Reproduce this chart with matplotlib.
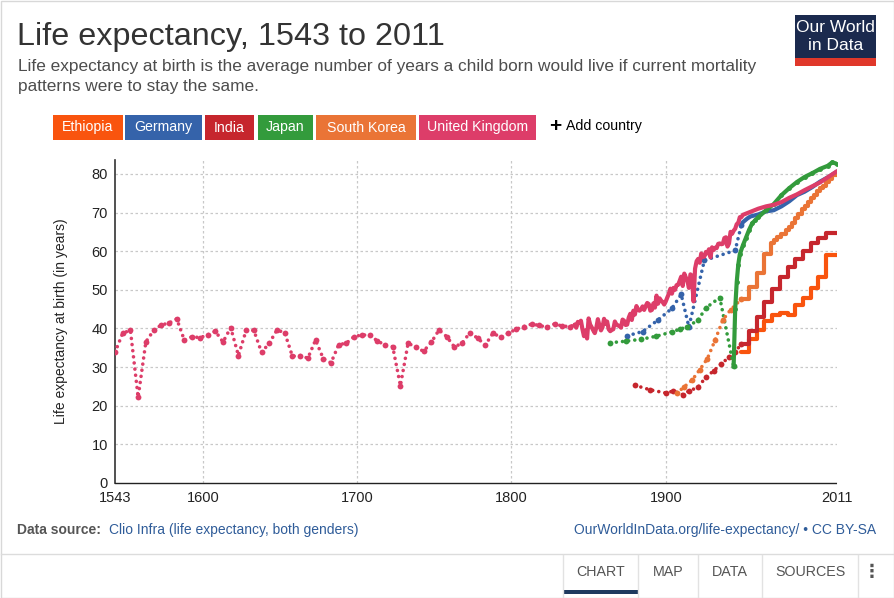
import matplotlib
matplotlib.use('Agg')
import matplotlib.pyplot as plt
from matplotlib.patches import Rectangle
from matplotlib.lines import Line2D

plt.rcParams['font.family'] = ['Liberation Sans', 'DejaVu Sans']

# ---------------- data ----------------
countries = ['Ethiopia', 'Germany', 'India', 'Japan', 'South Korea', 'United Kingdom']
colors = {'Ethiopia': '#F9540E', 'Germany': '#3563AA', 'India': '#C6262D',
          'Japan': '#339B3C', 'South Korea': '#EA7436', 'United Kingdom': '#DD3D69'}

# United Kingdom: sparse (5-yearly) estimates, then annual series from 1841
uk_sparse_years = list(range(1543, 1839, 5)) + [1841]
uk_sparse_vals = [33.8, 38.8, 39.5, 22.2, 36.5, 39.5, 40.9, 41.4, 42.5, 36.9,
                  37.9, 37.6, 38.3, 39.3, 36.5, 40.2, 33.0, 39.5, 39.5, 33.8,
                  36.2, 39.6, 38.9, 32.8, 33.0, 32.3, 37.0, 32.2, 31.1, 35.8,
                  36.2, 37.9, 38.3, 38.3, 36.8, 35.7, 35.3, 25.2, 36.2, 35.1,
                  34.1, 36.4, 39.6, 37.9, 35.2, 36.2, 38.9, 37.5, 35.7, 38.8,
                  37.7, 38.8, 39.8, 40.5, 41.1, 40.8, 40.3, 41.2, 40.6, 40.5,
                  41.0]
uk_years = list(range(1841, 1951)) + [1955, 1960, 1965, 1970, 1975, 1980,
                                      1985, 1990, 1995, 2000, 2005, 2011]
uk_vals = [41.0, 40.2, 41.7, 41.5, 42.0, 39.8, 38.0, 39.5, 37.4, 42.6,
           41.0, 40.3, 39.5, 38.8, 40.2, 42.4, 40.8, 39.5, 40.3, 42.5,
           41.2, 41.8, 39.8, 39.3, 39.6, 39.8, 41.8, 41.0, 40.8, 40.6,
           40.2, 42.3, 42.0, 40.9, 41.0, 42.8, 43.8, 42.2, 44.6, 43.6,
           45.8, 44.8, 44.6, 45.0, 45.7, 44.8, 45.8, 46.6, 46.3, 44.6,
           44.8, 46.5, 45.4, 48.5, 46.4, 47.8, 47.2, 46.8, 46.2, 47.0,
           48.0, 49.0, 50.3, 49.0, 50.5, 50.0, 51.2, 51.3, 52.3, 53.4,
           51.0, 54.2, 53.2, 52.4, 50.5, 54.0, 53.6, 47.0, 55.5, 57.4,
           58.0, 57.0, 59.4, 58.5, 58.6, 59.8, 59.4, 60.5, 58.4, 61.0,
           60.3, 60.9, 60.8, 61.9, 62.0, 61.8, 61.9, 63.4, 63.6, 61.2,
           62.0, 65.0, 64.5, 65.3, 65.8, 67.0, 67.3, 68.8, 68.8, 69.4,
           70.2, 71.0, 71.6, 72.0, 72.7, 73.8, 74.7, 75.8, 76.8, 77.8,
           79.1, 80.7]

# Germany
de_sparse_years = [1875, 1885, 1895, 1904, 1910, 1915, 1925, 1945, 1949]
de_sparse_vals = [38.1, 39.2, 42.2, 45.2, 48.8, 40.4, 57.6, 60.2, 66.8]
de_years = [1949, 1950, 1953, 1955, 1960, 1965, 1970, 1975, 1980, 1985,
            1990, 1995, 2000, 2005, 2011]
de_vals = [66.8, 67.5, 68.5, 69.0, 69.5, 70.3, 70.6, 71.6, 72.9, 74.5,
           75.4, 76.6, 78.0, 79.1, 80.6]

# India
in_sparse_years = [1880, 1890, 1900, 1905, 1911, 1915, 1921, 1926, 1931,
                   1936, 1941, 1945, 1949]
in_sparse_vals = [25.3, 24.1, 23.3, 23.8, 22.9, 23.8, 24.8, 27.4, 29.0,
                  30.9, 32.5, 33.8, 36.1]
in_years = [1949, 1954, 1959, 1964, 1969, 1974, 1979, 1984, 1989, 1994,
            1999, 2004, 2011]
in_vals = [36.1, 39.4, 43.0, 46.9, 50.2, 53.2, 55.8, 57.9, 60.0, 62.0,
           63.5, 64.8, 64.8]

# Japan
jp_sparse_years = [1864, 1874, 1884, 1894, 1904, 1909, 1914, 1921, 1926,
                   1935, 1944]
jp_sparse_vals = [36.3, 36.7, 37.2, 38.0, 39.1, 39.8, 40.4, 42.2, 45.3,
                  48.0, 30.2]
jp_years = [1944, 1945, 1946, 1947, 1948, 1950, 1952, 1954, 1956, 1958,
            1960, 1965, 1970, 1975, 1980, 1985, 1990, 1995, 2000, 2005,
            2008, 2011]
jp_vals = [30.2, 45.0, 52.0, 56.5, 59.2, 61.5, 63.5, 65.5, 67.2, 68.0,
           68.8, 70.6, 72.2, 74.5, 76.3, 77.9, 79.2, 80.2, 81.3, 82.1,
           83.0, 82.6]

# South Korea
kr_sparse_years = [1907, 1912, 1917, 1922, 1927, 1932, 1937, 1942, 1949]
kr_sparse_vals = [23.2, 24.9, 26.6, 29.3, 32.2, 37.0, 42.2, 44.8, 47.6]
kr_years = [1949, 1954, 1959, 1964, 1968, 1970, 1972, 1975, 1978, 1980,
            1982, 1984, 1986, 1988, 1990, 1992, 1994, 1996, 1998, 2000,
            2002, 2004, 2006, 2008, 2011]
kr_vals = [47.6, 50.8, 54.3, 59.3, 62.0, 63.0, 63.7, 64.5, 65.5, 66.3,
           67.3, 68.5, 69.6, 70.8, 71.8, 72.8, 73.8, 74.6, 75.5, 76.3,
           77.0, 77.8, 78.8, 79.7, 80.6]

# Ethiopia
et_years = [1949, 1954, 1959, 1964, 1969, 1974, 1979, 1984, 1989, 1994,
            1999, 2004, 2011]
et_vals = [33.8, 37.2, 39.6, 42.0, 43.6, 44.1, 43.5, 46.0, 47.8, 50.4,
           53.4, 59.0, 59.0]

y_ticks = [0, 10, 20, 30, 40, 50, 60, 70, 80]
x_ticks = [1543, 1600, 1700, 1800, 1900, 2011]

# ---------------- figure ----------------
W, H = 894, 598
fig = plt.figure(figsize=(W / 100, H / 100), dpi=100)
fig.patch.set_facecolor('white')


def fx(px):
    return px / W


def fy(py):
    return 1 - py / H


def box(x0, y0, x1, y1, color, **kw):
    fig.add_artist(Rectangle((fx(x0), fy(y1)), (x1 - x0) / W, (y1 - y0) / H,
                             transform=fig.transFigure, facecolor=color,
                             edgecolor='none', **kw))


# outer frame
fig.add_artist(Rectangle((0.5 / W, 0.5 / H), (W - 1) / W, (H - 1) / H,
                         transform=fig.transFigure, fill=False,
                         edgecolor='#d8d8d8', lw=1))

# title and subtitle
fig.text(fx(17), fy(37), 'Life expectancy, 1543 to 2011', fontsize=23.3,
         color='#333333', va='center', ha='left')
fig.text(fx(18), fy(66), 'Life expectancy at birth is the average number of years a child born would live if current mortality',
         fontsize=12.4, color='#4d4d4d', va='center')
fig.text(fx(18), fy(87), 'patterns were to stay the same.',
         fontsize=12.4, color='#4d4d4d', va='center')

# logo
box(795, 15, 876, 66, '#1B2A4E')
box(795, 58, 876, 66, '#E0382A')
fig.text(fx(835.5), fy(28), 'Our World', fontsize=12.5, color='white',
         ha='center', va='center')
fig.text(fx(835.5), fy(46), 'in Data', fontsize=12.5, color='white',
         ha='center', va='center')

# country buttons
buttons = [(53, 123), (125, 202), (205, 254), (258, 313), (316, 416), (419, 536)]
for name, (x0, x1) in zip(countries, buttons):
    box(x0, 115, x1, 140, colors[name])
    fig.text(fx((x0 + x1) / 2), fy(127.5), name, fontsize=10.2, color='white',
             ha='center', va='center')
fig.text(fx(555), fy(127), '+', fontsize=15, fontweight='bold', color='black',
         ha='center', va='center')
fig.text(fx(566), fy(126), 'Add country', fontsize=10.2, color='black',
         ha='left', va='center')

# ---------------- chart ----------------
ax = fig.add_axes([fx(115), fy(483), (837 - 115) / W, (483 - 160) / H])
ax.set_xlim(1543, 2011)
ax.set_ylim(0, 83.6)
for y in y_ticks[1:]:
    ax.axhline(y, color='#c8c8c8', lw=0.9, ls=(0, (2, 2)), zorder=0)
for x in x_ticks[1:-1]:
    ax.axvline(x, color='#c8c8c8', lw=0.9, ls=(0, (2, 2)), zorder=0)

dot_ls = (0, (0.01, 1.7))


def sparse(xs, ys, c):
    ax.plot(xs, ys, color=c, lw=2.6, ls=dot_ls, dash_capstyle='round',
            marker='o', ms=4.2, mec='none', zorder=3)


def dense(xs, ys, c, step=False):
    ax.plot(xs, ys, color=c, lw=3.0, solid_capstyle='round',
            solid_joinstyle='round', drawstyle='steps-post' if step else 'default',
            zorder=4)


dense(et_years, et_vals, colors['Ethiopia'], step=True)
sparse(de_sparse_years, de_sparse_vals, colors['Germany'])
dense(de_years, de_vals, colors['Germany'])
sparse(in_sparse_years, in_sparse_vals, colors['India'])
dense(in_years, in_vals, colors['India'], step=True)
sparse(jp_sparse_years, jp_sparse_vals, colors['Japan'])
ax.plot(jp_years, jp_vals, color=colors['Japan'], lw=3.0, marker='o', ms=2.5,
        zorder=4)
sparse(kr_sparse_years, kr_sparse_vals, colors['South Korea'])
dense(kr_years, kr_vals, colors['South Korea'], step=True)
sparse(uk_sparse_years, uk_sparse_vals, colors['United Kingdom'])
dense(uk_years, uk_vals, colors['United Kingdom'])

ax.set_yticks(y_ticks)
ax.set_xticks(x_ticks)
ax.set_xticklabels([str(v) for v in x_ticks])
ax.tick_params(axis='both', length=0, labelsize=10.5, colors='#222222')
ax.tick_params(axis='y', pad=5)
ax.tick_params(axis='x', pad=6)
for s in ['top', 'right']:
    ax.spines[s].set_visible(False)
ax.spines['left'].set_color('#333333')
ax.spines['left'].set_linewidth(1.2)
ax.spines['bottom'].set_color('#222222')
ax.spines['bottom'].set_linewidth(1.0)
ax.spines['bottom'].set_linestyle((0, (1.5, 1)))
ax.set_ylabel('Life expectancy at birth (in years)', fontsize=10, color='#222222',
              labelpad=17)

# ---------------- footer ----------------
fig.text(fx(17), fy(530), 'Data source:', fontsize=10, fontweight='bold',
         color='#555555', va='center')
fig.text(fx(109), fy(530), 'Clio Infra (life expectancy, both genders)',
         fontsize=10, color='#2F5C99', va='center')
fig.text(fx(876), fy(530), 'OurWorldInData.org/life-expectancy/ \u2022 CC BY-SA',
         fontsize=10, color='#2F5C99', va='center', ha='right')

fig.add_artist(Line2D([fx(1), fx(893)], [fy(554), fy(554)],
                      transform=fig.transFigure, color='#dcdcdc', lw=1))
tabs = [('CHART', 563, 638), ('MAP', 638, 698), ('DATA', 698, 762),
        ('SOURCES', 762, 858)]
for label, x0, x1 in tabs:
    fig.text(fx((x0 + x1) / 2), fy(572), label, fontsize=10.3, color='#555555',
             ha='center', va='center')
    fig.add_artist(Line2D([fx(x1), fx(x1)], [fy(555), fy(597)],
                          transform=fig.transFigure, color='#e2e2e2', lw=1))
fig.add_artist(Line2D([fx(563), fx(563)], [fy(555), fy(597)],
                      transform=fig.transFigure, color='#e2e2e2', lw=1))
box(564, 590, 638, 594, '#1E3A5F')
fig.text(fx(872), fy(572), '\u22ee', fontsize=13, fontweight='bold',
         color='#555555', ha='center', va='center')

fig.savefig('out.png', dpi=100)
